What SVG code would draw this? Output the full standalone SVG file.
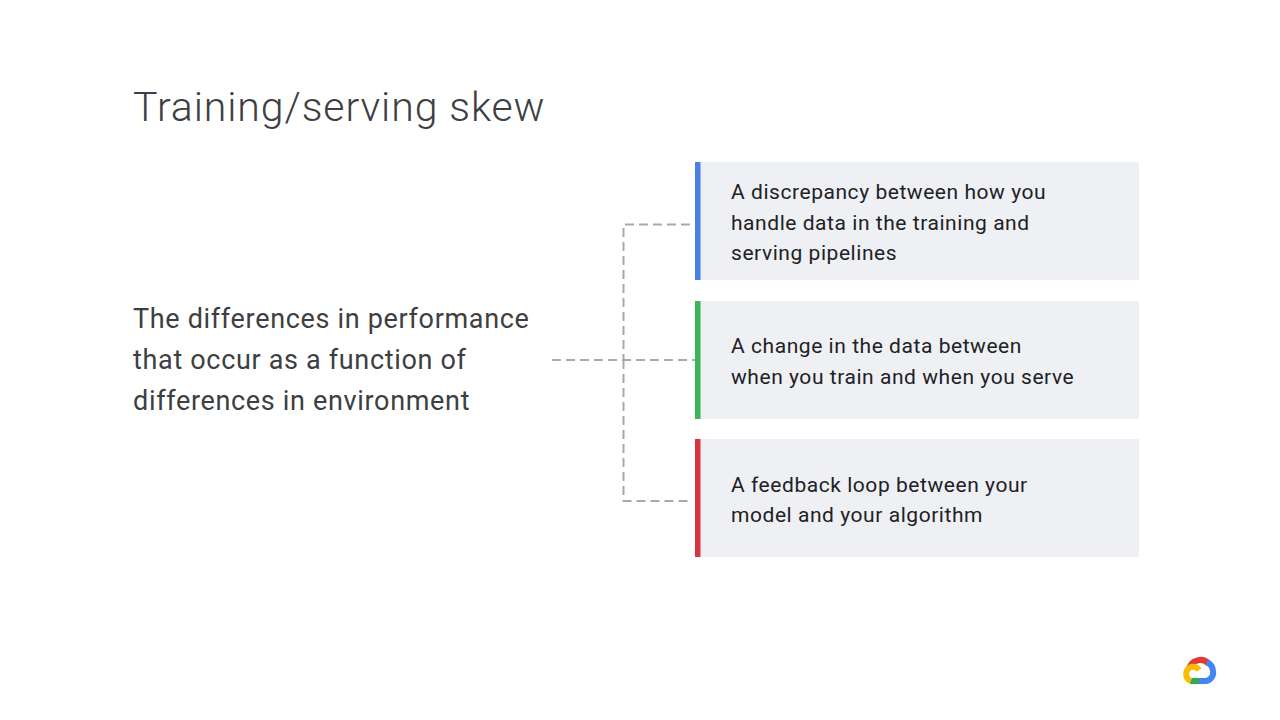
<svg xmlns="http://www.w3.org/2000/svg" width="1280" height="720" viewBox="0 0 1280 720">
<style>
text{font-family:Roboto,"Liberation Sans",sans-serif}
.title{font-size:41px;font-weight:300;fill:#3c4043;letter-spacing:.9px}
.lead{font-size:27px;fill:#3c4043;letter-spacing:.67px}
.body{font-size:21px;fill:#202124;letter-spacing:.55px}
.box{fill:#eff0f4}
.conn{fill:none;stroke:#a8a9ac;stroke-width:2;stroke-dasharray:9 5}
</style>
<rect width="1280" height="720" fill="#fff"/>
<g id="title"><text class="title" x="133" y="121">Training/serving skew</text></g>
<g id="source"><text class="lead" x="133" y="328">The differences in performance</text><text class="lead" x="133" y="369">that occur as a function of</text><text class="lead" x="133" y="410">differences in environment</text></g>
<g id="connectors">
<path class="conn" d="M552 360H695"/>
<path class="conn" d="M690 224.500H623.500V360"/>
<path class="conn" d="M623.500 360V501H690"/>
</g>
<g id="node-1"><rect class="box" x="695" y="162" width="444" height="118"/><rect x="695" y="162" width="5.500" height="118" fill="#4a7fe8"/>
<text class="body" x="731" y="199">A discrepancy between how you</text><text class="body" x="731" y="230">handle data in the training and</text><text class="body" x="731" y="260">serving pipelines</text></g>
<g id="node-2"><rect class="box" x="695" y="301" width="444" height="118"/><rect x="695" y="301" width="5.500" height="118" fill="#3cb55a"/>
<text class="body" x="731" y="353">A change in the data between</text><text class="body" x="731" y="384">when you train and when you serve</text></g>
<g id="node-3"><rect class="box" x="695" y="439" width="444" height="118"/><rect x="695" y="439" width="5.500" height="118" fill="#d9343f"/>
<text class="body" x="731" y="492">A feedback loop between your</text><text class="body" x="731" y="522">model and your algorithm</text></g>
<g id="logo" fill="none" stroke-width="6">
<path d="M1189 669A11.500 11.500 0 0 1 1209 664" stroke="#e53935"/>
<path d="M1207 662A11 11 0 0 1 1213 671A8.500 8.500 0 0 1 1206 681H1199" stroke="#4285f4"/>
<path d="M1199 681H1190" stroke="#34a853"/>
<path d="M1191 681A7.500 7.500 0 0 1 1191 667A7.500 7.500 0 0 1 1199 670" stroke="#fbbc04"/>
</g>
</svg>
